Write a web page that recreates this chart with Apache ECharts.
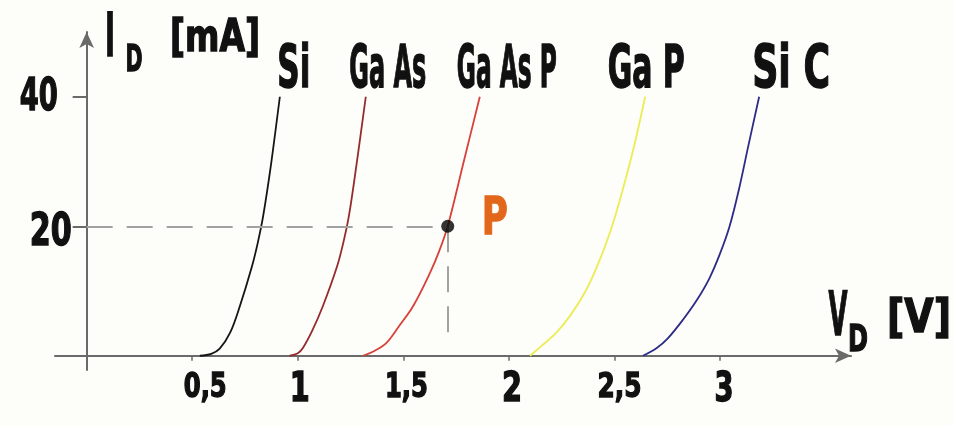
<!DOCTYPE html>
<html>
<head>
<meta charset="utf-8">
<title>diode curves</title>
<script src="https://cdn.jsdelivr.net/npm/echarts@6/dist/echarts.min.js"></script>
<style>
  html, body { margin: 0; padding: 0; background: #fdfdfa; }
  #main { width: 954px; height: 426px; }
</style>
</head>
<body>
<div id="main"></div>
<script>
    // curve data, V_D [V] vs I_D [mA]
    var siV    = [0.536, 0.59, 0.63, 0.68, 0.725, 0.782, 0.81, 0.836, 0.875, 0.915];
    var siI    = [0, 0.3, 1.1, 3.6, 7.6, 13.7, 17.4, 21.6, 30, 40];
    var gaAsV  = [0.962, 1.0, 1.024, 1.07, 1.118, 1.185, 1.215, 1.243, 1.28, 1.322];
    var gaAsI  = [0, 0.4, 1.2, 4.0, 7.6, 13.7, 17.4, 21.8, 30, 40];
    var gaAsPV = [1.308, 1.36, 1.42, 1.48, 1.545, 1.626, 1.67, 1.71, 1.786, 1.862];
    var gaAsPI = [0, 0.7, 2, 4.6, 7.6, 12.8, 16.2, 20, 30, 40];
    var gaPV   = [2.10, 2.15, 2.22, 2.29, 2.36, 2.42, 2.48, 2.53, 2.59, 2.645];
    var gaPI   = [0, 1.4, 3.4, 6.2, 9.8, 14, 19.2, 24.6, 32, 40];
    var siCV   = [2.635, 2.70, 2.75, 2.825, 2.89, 2.95, 3.00, 3.045, 3.09, 3.135, 3.185];
    var siCI   = [0, 1.2, 2.6, 5.6, 8.6, 12, 15.8, 20, 25.8, 32.6, 40];

    var curveNames = ["Si", "Ga As", "Ga As P", "Ga P", "Si C"];
    var xTicks = [0.5, 1, 1.5, 2, 2.5, 3];
    var yTicks = [20, 40];
    var opPoint = [1.71, 20];   // punkt P
    var opFoot = 1.8;           // dolny koniec pionowej kreski

    var FONT = "'DejaVu Sans', sans-serif";
    var INK = "#111";
    var colors = ["#151515", "#952b2b", "#d8403a", "#ecec55", "#2c2c86"];

    // text placement (pixels): [dx, dy, font size, target width]
    var tagStyle = [[14, -25, 58, 33], [22, -25, 58, 77], [27, -25, 58, 100], [1, -25, 58, 77], [32, -25, 58, 78]];
    var xLblStyle = [[13, 32, 34, 43], [2, 35, 40, 20], [3, 32, 34, 43], [3, 35, 40, 20], [5, 32, 34, 44], [4, 35, 40, 19]];
    var yLblStyle = { 20: [-36, 7, 44, 42], 40: [-48, 2, 44, 38] };

    function pairs(xs, ys) {
        var out = [];
        for (var i = 0; i < xs.length; i++) out.push([xs[i], ys[i]]);
        return out;
    }

    function curve(k, xs, ys) {
        return {
            type: "line", name: curveNames[k], data: pairs(xs, ys),
            smooth: 0.35,
            showSymbol: false, silent: true,
            lineStyle: { color: colors[k], width: 1.8 },
            itemStyle: { color: colors[k] }
        };
    }

    var measureCtx = document.createElement("canvas").getContext("2d");
    // narrow heavy text: scale horizontally to the wanted width
    function txt(x, y, s, size, w, color) {
        var font = "bold " + size + "px " + FONT;
        measureCtx.font = font;
        var sx = w / measureCtx.measureText(s).width;
        return {
            type: "text", x: x, y: y, scaleX: sx, silent: true, z: 10,
            style: { text: s, font: font, fill: color || INK, stroke: color || INK, lineWidth: 1.5,
                     align: "center", verticalAlign: "middle" }
        };
    }

    var dom = document.getElementById("main");
    var myChart = echarts.init(dom);

    var axisGray = "#6a6a6a";
    var option = {
        backgroundColor: "#fdfdfa",
        animation: false,
        grid: { left: 55, right: 103, top: 32, bottom: 56, outerBoundsMode: "none", containLabel: false },
        xAxis: {
            type: "value", min: -0.15, max: 3.62,
            splitLine: { show: false },
            axisLine: { onZero: true, symbol: ["none", "arrow"], symbolSize: [11, 16],
                        lineStyle: { color: axisGray, width: 2 } },
            axisTick: { customValues: xTicks, length: 5, lineStyle: { color: axisGray, width: 1.5 } },
            axisLabel: { show: false }
        },
        yAxis: {
            type: "value", min: -2.2, max: 50,
            splitLine: { show: false },
            axisLine: { onZero: true, symbol: ["none", "arrow"], symbolSize: [11, 16],
                        lineStyle: { color: axisGray, width: 2 } },
            axisTick: { customValues: yTicks, length: 14, lineStyle: { color: axisGray, width: 2 } },
            axisLabel: { show: false }
        },
        series: [
            curve(0, siV, siI),
            curve(1, gaAsV, gaAsI),
            curve(2, gaAsPV, gaAsPI),
            curve(3, gaPV, gaPI),
            curve(4, siCV, siCI),
            {
                type: "scatter", silent: true, symbolSize: 13,
                itemStyle: { color: "#000" },
                data: [opPoint],
                markLine: {
                    silent: true, symbol: "none", label: { show: false },
                    lineStyle: { color: "#a2a2a2", type: [26, 14], width: 2 },
                    data: [
                        [{ coord: [0, opPoint[1]] }, { coord: opPoint }],
                        [{ coord: opPoint }, { coord: [opPoint[0], opFoot] }]
                    ]
                },
                z: 5
            }
        ]
    };
    myChart.setOption(option);

    // labels placed through the chart's own scales
    var toPx = function (p) { return myChart.convertToPixel({ gridIndex: 0 }, p); };
    var g = [];
    var tops = [
        [siV[siV.length - 1], siI[siI.length - 1]],
        [gaAsV[gaAsV.length - 1], gaAsI[gaAsI.length - 1]],
        [gaAsPV[gaAsPV.length - 1], gaAsPI[gaAsPI.length - 1]],
        [gaPV[gaPV.length - 1], gaPI[gaPI.length - 1]],
        [siCV[siCV.length - 1], siCI[siCI.length - 1]]
    ];
    tops.forEach(function (t, k) {
        var p = toPx(t), s = tagStyle[k];
        g.push(txt(p[0] + s[0], p[1] + s[1], curveNames[k], s[2], s[3]));
    });
    xTicks.forEach(function (v, i) {
        var p = toPx([v, 0]), s = xLblStyle[i];
        g.push(txt(p[0] + s[0], p[1] + s[1], String(v).replace(".", ","), s[2], s[3]));
    });
    yTicks.forEach(function (v) {
        var p = toPx([0, v]), s = yLblStyle[v];
        g.push(txt(p[0] + s[0], p[1] + s[1], String(v), s[2], s[3]));
    });
    var pp = toPx(opPoint);
    g.push(txt(pp[0] + 47, pp[1] - 6, "P", 52, 26, "#e2671c"));

    // axis titles
    g.push(txt(110, 40, "I", 60, 10));
    g.push(txt(134, 61, "D", 38, 17));
    g.push(txt(215, 40, "[mA]", 44, 90));
    g.push(txt(838, 319, "V", 60, 19));
    g.push(txt(858, 341, "D", 38, 20));
    g.push(txt(919, 320, "[V]", 46, 64));

    myChart.setOption({ graphic: g });
</script>
</body>
</html>
